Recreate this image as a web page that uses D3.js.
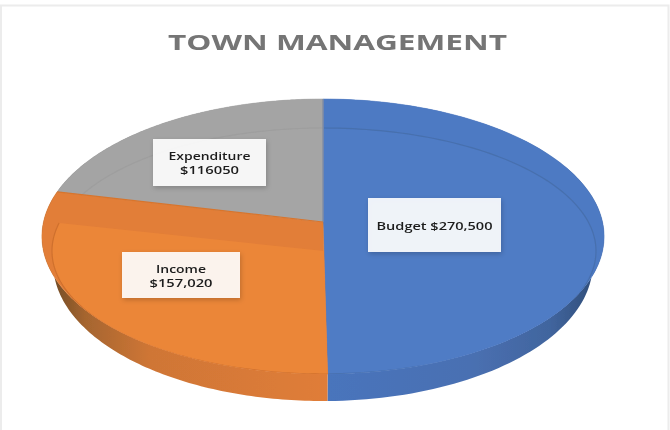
<!DOCTYPE html>
<html><head><meta charset="utf-8">
<script src="https://cdnjs.cloudflare.com/ajax/libs/d3/7.8.5/d3.min.js"></script>
<style>html,body{margin:0;padding:0;background:#fff}svg{display:block}</style>
</head><body><svg id="c" width="670" height="430"></svg>
<script>
const categories = ["Budget", "Income", "Expenditure"];
const values = [270500, 157020, 116050];
const labelLines = [["Budget $270,500"], ["Income", "$157,020"], ["Expenditure", "$116050"]];
const titleText = "TOWN MANAGEMENT";

const faceColors = ["#4f7bc5", "#eb8639", "#a5a5a5"];
const bevelColors = ["#4e7ac3", "#e27e37", "#a4a4a4"];
const ridgeColors = ["#456da8", "#c96c2a", "#9c9c9c"];
const labelBoxes = [[368,198,133,54], [122,252,118,46], [153,139,113,47]];
const labelWidths = [[116], [50,63], [82,59]];

const svg = d3.select("#c");
const defs = svg.append("defs");
const soft = defs.append("filter").attr("id","soft").attr("x","-10%").attr("y","-30%").attr("width","120%").attr("height","160%");
soft.append("feGaussianBlur").attr("stdDeviation",0.5);
const sh = defs.append("filter").attr("id","shadow").attr("x","-20%").attr("y","-20%").attr("width","140%").attr("height","150%");
sh.append("feDropShadow").attr("dx",1).attr("dy",2).attr("stdDeviation",2.5).attr("flood-color","#000").attr("flood-opacity",0.22);

function gradient(id, stops){
  const g = defs.append("linearGradient").attr("id",id).attr("gradientUnits","userSpaceOnUse")
    .attr("x1",stops[0][0]).attr("x2",stops[stops.length-1][0]).attr("y1",0).attr("y2",0);
  const a = stops[0][0], b = stops[stops.length-1][0];
  stops.forEach(s=>g.append("stop").attr("offset",(s[0]-a)/(b-a)).attr("stop-color",s[1]));
}
gradient("wall0",[[328,"#4a74bc"],[470,"#4a70b2"],[550,"#41659e"],[597,"#2f4c78"]]);
gradient("wall1",[[50,"#6f4a26"],[85,"#a5652f"],[150,"#cf7636"],[328,"#e07d38"]]);
gradient("wall2",[[50,"#777"],[328,"#999"]]);

// Perspective projection of the unit disc on to the page
const cx = 323, cy = 222, kv = -0.1055, ax = 279.5, ay = 136;
const outer = t=>{const u=Math.sin(t), v=-Math.cos(t), d=1+kv*v; return [cx+ax*u/d, cy+ay*v/d];};
const inner = t=>[324+272*Math.sin(t), 251-123*Math.cos(t)];
const wallRim = t=>{const p=outer(t); return [cx+(p[0]-cx)*0.96, p[1]+27];};
const outerC = [cx,cy], innerC = [324,251];

const arcs = d3.pie().sort(null).value(d=>d)(values);
const line = d3.line();
const samples = (a,b)=>d3.range(0,121).map(i=>a+(b-a)*i/120);
const sector = (fn,c,a,b)=>line([c].concat(samples(a,b).map(t=>fn(t))))+"Z";
const pieGroup = svg.append("g").attr("filter","url(#soft)");

// side wall
arcs.forEach((d,i)=>{
  const ts = samples(d.startAngle,d.endAngle);
  pieGroup.append("path").attr("d",line(ts.map(t=>outer(t)).concat(ts.slice().reverse().map(t=>wallRim(t))))+"Z")
    .attr("fill",`url(#wall${i})`);
});
// top face (outer bevel band) and inner face clipped to its own slice
arcs.forEach((d,i)=>{
  const p = sector(outer,outerC,d.startAngle,d.endAngle);
  defs.append("clipPath").attr("id",`slice${i}`).append("path").attr("d",p);
  pieGroup.append("path").attr("d",p).attr("fill",bevelColors[i]).attr("stroke",bevelColors[i]).attr("stroke-width",0.5);
  const g = pieGroup.append("g").attr("clip-path",`url(#slice${i})`);
  const wide = i===1 ? sector(inner,innerC,d.startAngle,d.endAngle)
                     : sector(inner,[innerC[0],i===2?cy:innerC[1]],d.startAngle-(i===2?0.1:0),d.endAngle);
  g.append("path").attr("d",wide).attr("fill",faceColors[i]);
  g.append("path").attr("d",line(samples(d.startAngle,d.endAngle).map(t=>inner(t))))
    .attr("fill","none").attr("stroke",ridgeColors[i]).attr("stroke-width",1.2).attr("opacity",0.8);
});
// seam lines between the slices
pieGroup.append("path").attr("d",line([outerC,outer(0)])).attr("stroke","#7f8ba3").attr("stroke-width",1.3).attr("fill","none");
pieGroup.append("path").attr("d",line([outerC,outer(arcs[1].endAngle)])).attr("stroke","#d9742c").attr("stroke-width",1.2).attr("fill","none");

// page frame
svg.append("path").attr("d",line([[1,430],[1,5.5],[668.5,5.5],[668.5,430]]))
  .attr("fill","none").attr("stroke","#ececec").attr("stroke-width",2);

// title
svg.append("text").attr("x",168).attr("y",50)
  .attr("font-family","'Open Sans',sans-serif").attr("font-weight",700).attr("font-size",22)
  .attr("textLength",339).attr("lengthAdjust","spacingAndGlyphs")
  .attr("fill","#747474").attr("filter","url(#soft)").text(titleText);

// labels
arcs.forEach((d,i)=>{
  const [x,y,w,h] = labelBoxes[i];
  svg.append("rect").attr("x",x).attr("y",y).attr("width",w).attr("height",h)
    .attr("fill","#fff").attr("fill-opacity",0.9).attr("filter","url(#shadow)");
  const lines = labelLines[i], lh = 14;
  const y0 = y+h/2-(lines.length-1)*lh/2+4.5;
  lines.forEach((s,j)=>{
    const tw = labelWidths[i][j];
    svg.append("text").attr("x",x+w/2-tw/2).attr("y",y0+j*lh)
      .attr("font-family","'Open Sans',sans-serif").attr("font-size",11).attr("font-weight",600)
      .attr("textLength",tw).attr("lengthAdjust","spacingAndGlyphs")
      .attr("fill","#1f1f1f").attr("filter","url(#soft)").text(s);
  });
});
</script></body></html>
